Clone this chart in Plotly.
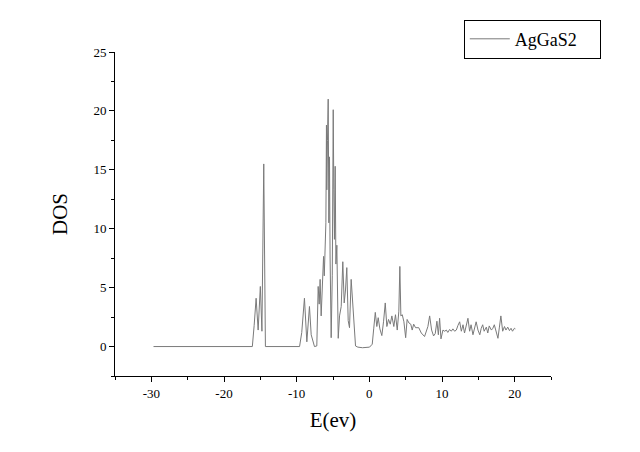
import plotly.graph_objects as go

# Energy (eV) and DOS values
energy = [-29.7, -16.1, -15.85, -15.58, -15.3, -15.0, -14.78, -14.53, -14.3,
          -9.6, -9.3, -8.93, -8.6, -8.24, -8.0, -7.55, -7.23, -7.04, -6.9, -6.77,
          -6.63, -6.45, -6.3, -6.2, -6.13, -5.98, -5.9, -5.85, -5.76, -5.66, -5.57,
          -5.48, -5.4, -5.25, -5.1, -4.97, -4.89, -4.8, -4.7, -4.6, -4.47, -4.28,
          -4.1, -3.87, -3.65, -3.46, -3.28, -3.1, -2.91, -2.73, -2.5, -2.36, -2.18,
          -1.9, -1.58, -0.94, 0.03, 0.4, 0.6, 0.82, 1.03, 1.22, 1.45, 1.72, 1.96,
          2.19, 2.41, 2.64, 2.88, 3.1, 3.37, 3.6, 3.84, 4.06, 4.2, 4.34, 4.53, 4.76,
          5.0, 5.2, 5.45, 5.7, 5.9, 6.1, 6.36, 6.8, 7.15, 7.6, 8.06, 8.3, 8.57, 8.84,
          9.07, 9.3, 9.5, 9.67, 9.86, 10.13, 10.36, 10.6, 10.8, 11.05, 11.28, 11.5,
          11.74, 11.97, 12.2, 12.43, 12.66, 12.89, 13.1, 13.35, 13.57, 13.8, 14.0,
          14.26, 14.5, 14.7, 14.95, 15.2, 15.4, 15.6, 15.8, 16.1, 16.3, 16.5, 16.8,
          17.0, 17.2, 17.4, 17.7, 17.9, 18.1, 18.35, 18.6, 18.8, 19.05, 19.28, 19.5,
          19.7, 19.97, 20.1]
dos = [0.0, 0.0, 1.8, 4.1, 1.4, 5.1, 1.3, 15.5, 0.0,
       0.0, 1.2, 4.1, 0.4, 3.4, 1.0, 0.0, 0.05, 5.1, 3.6, 5.7,
       2.6, 6.3, 7.65, 6.0, 8.5, 10.5, 18.8, 13.3, 17.5, 21.0, 10.5,
       16.1, 7.6, 0.75, 6.0, 20.1, 13.3, 9.1, 15.3, 7.0, 8.6, 0.7,
       2.6, 3.4, 7.2, 3.7, 4.8, 6.7, 2.2, 1.6, 5.7, 4.3, 2.2,
       0.05, -0.05, -0.1, -0.05, 0.2, 1.5, 2.9, 1.7, 2.45, 1.5, 0.93, 2.15,
       3.7, 1.7, 2.3, 1.9, 2.6, 1.7, 2.7, 1.4, 3.0, 6.8, 2.6, 2.7, 2.1,
       0.75, 2.3, 2.0, 1.9, 1.4, 1.9, 1.6, 1.6, 1.15, 0.85, 1.7, 2.6, 1.4, 0.9,
       1.1, 2.15, 1.0, 2.4, 0.65, 1.4, 1.3, 1.4, 1.2, 1.45, 1.3, 1.5,
       1.3, 1.4, 1.8, 2.1, 1.3, 1.85, 1.15, 1.7, 2.4, 1.3, 1.85,
       1.0, 1.7, 2.1, 1.4, 1.0, 1.55, 1.85, 1.3, 1.65, 1.15, 1.75, 1.4,
       1.55, 1.85, 1.4, 0.7, 1.65, 2.6, 1.3, 1.7, 1.4, 1.65, 1.35, 1.55,
       1.3, 1.55, 1.5]

x_tick_vals = [-30, -20, -10, 0, 10, 20]
x_tick_text = ["-30", "-20", "-10", "0", "10", "20"]
y_tick_vals = [0, 5, 10, 15, 20, 25]
y_tick_text = ["0", "5", "10", "15", "20", "25"]

serif = "Liberation Serif, Times New Roman, serif"

fig = go.Figure()
fig.add_trace(go.Scatter(x=energy, y=dos, mode="lines", name="AgGaS2",
                         line=dict(color="#7a7a7a", width=1)))

fig.update_layout(
    width=640, height=452,
    margin=dict(l=107, r=97, t=44, b=84),
    paper_bgcolor="white", plot_bgcolor="white",
    font=dict(family=serif, color="black"),
    showlegend=True,
    legend=dict(x=0.80, y=1.10, xanchor="left", yanchor="top",
                orientation="h", entrywidth=80, itemwidth=40,
                bordercolor="black", borderwidth=1, bgcolor="white",
                font=dict(family=serif, size=18)),
)
fig.update_xaxes(
    range=[-35, 25], showgrid=False, zeroline=False,
    showline=True, linecolor="black", linewidth=1,
    tickmode="array", tickvals=x_tick_vals, ticktext=x_tick_text,
    ticks="outside", ticklen=5, tickcolor="black",
    tickfont=dict(family=serif, size=13),
    minor=dict(dtick=5, tick0=-35, ticks="outside", ticklen=3, tickcolor="black"),
    title=dict(text="E(ev)", font=dict(family=serif, size=21), standoff=12),
)
fig.update_yaxes(
    range=[-2.5, 25], showgrid=False, zeroline=False,
    showline=True, linecolor="black", linewidth=1,
    tickmode="array", tickvals=y_tick_vals, ticktext=y_tick_text,
    ticks="outside", ticklen=5, tickcolor="black",
    tickfont=dict(family=serif, size=13),
    minor=dict(dtick=2.5, tick0=-2.5, ticks="outside", ticklen=3, tickcolor="black"),
    title=dict(text="DOS", font=dict(family=serif, size=21), standoff=20),
)

fig.write_html("out.html")
